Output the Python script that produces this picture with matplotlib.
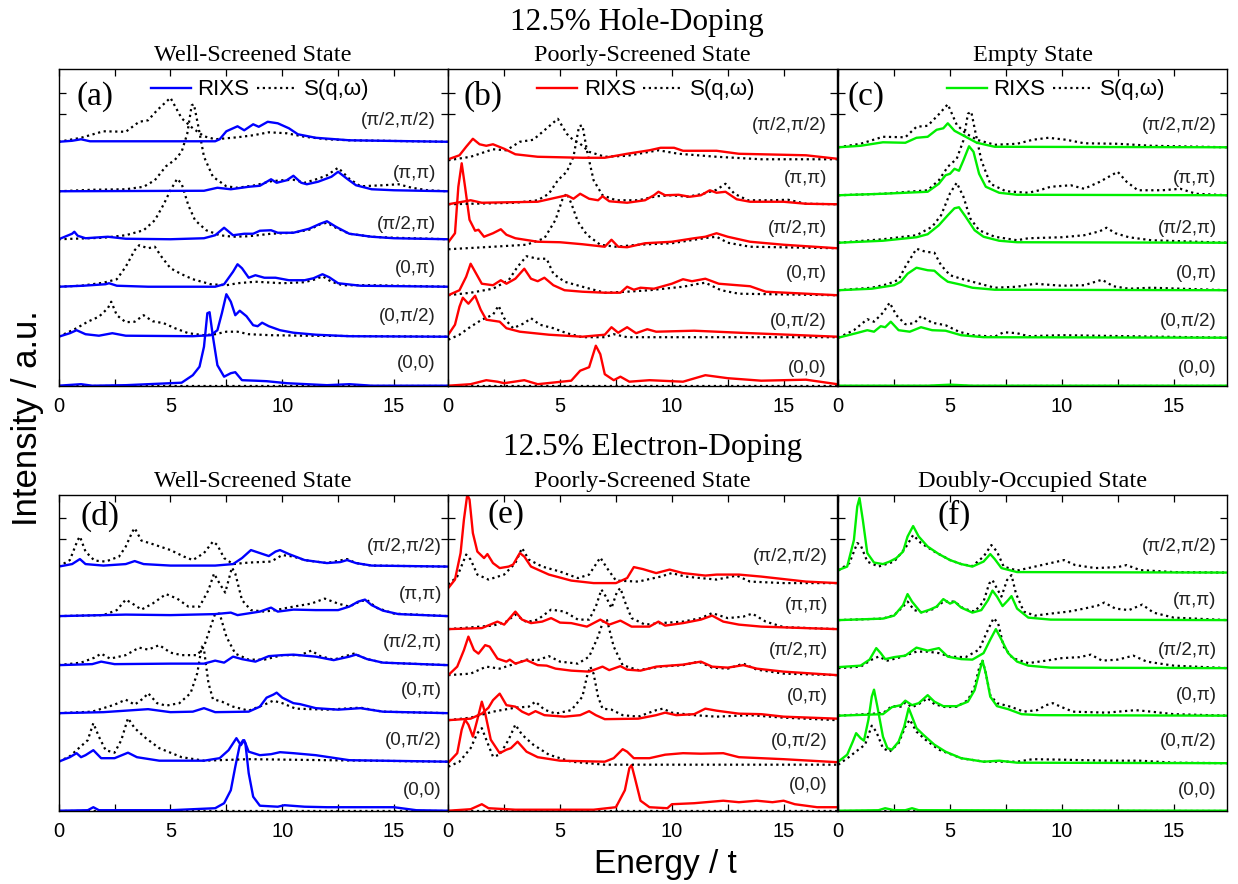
import numpy as np
import matplotlib.pyplot as plt
from matplotlib.ticker import MultipleLocator, FixedLocator
from matplotlib.lines import Line2D

# momentum labels, bottom -> top of each panel
q_labels = ['(0,0)', '(0,π/2)', '(0,π)', '(π/2,π)', '(π,π)', '(π/2,π/2)']
row_titles = ['12.5% Hole-Doping', '12.5% Electron-Doping']
panel_titles = ['Well-Screened State', 'Poorly-Screened State', 'Empty State',
                'Well-Screened State', 'Poorly-Screened State', 'Doubly-Occupied State']
panel_letters = ['(a)', '(b)', '(c)', '(d)', '(e)', '(f)']
panel_colors = ['#0000ff', '#ff0000', '#00ee00', '#0000ff', '#ff0000', '#00ee00']

# vertical offsets of the stacked spectra (bottom -> top)
offsets_a = [0, 0.98, 1.98, 2.93, 3.89, 4.88]
offsets_b = [0, 0.97, 1.81, 2.75, 3.63, 4.53]
offsets_c = [0, 0.96, 1.91, 2.86, 3.81, 4.77]
offsets_d = [0, 0.98, 1.95, 2.91, 3.89, 4.88]
offsets_e = [0, 0.95, 1.81, 2.71, 3.63, 4.55]
offsets_f = [0, 0.95, 1.90, 2.85, 3.81, 4.76]

flat = [(0, 0), (17.4, 0)]

# ---- (a) hole doping, well-screened ----
a_rixs = [
    [(0,0),(1,0.03),(1.5,0),(3,0.01),(5.5,0.06),(6.0,0.21),(6.3,0.38),(6.5,0.78),(6.65,1.45),(6.75,1.47),(6.9,0.98),(7.1,0.41),(7.4,0.18),(7.7,0.25),(7.9,0.27),(8.2,0.11),(8.8,0.1),(9.3,0.09),(10.2,0.05),(12,0.01),(13,0.03),(14,0),(17.4,0)],
    [(0,0),(0.5,0.07),(0.8,0.13),(1.2,0.05),(1.8,0.02),(2.4,0.07),(3,0.02),(6,0.01),(6.8,0.03),(7.1,0.13),(7.3,0.47),(7.5,0.85),(7.7,0.7),(7.9,0.43),(8.1,0.52),(8.4,0.41),(8.7,0.23),(8.9,0.21),(9.1,0.28),(9.4,0.21),(9.9,0.13),(10.5,0.08),(11.5,0.04),(13,0.01),(17.4,0)],
    [(0,0),(1.1,0.02),(2.1,0.05),(2.25,0.07),(2.6,0.02),(4,0),(7,0),(7.4,0.05),(7.8,0.3),(8.0,0.45),(8.2,0.37),(8.5,0.18),(8.8,0.23),(9.2,0.18),(9.7,0.18),(10.3,0.13),(11.0,0.13),(11.4,0.17),(11.8,0.25),(12.1,0.19),(12.5,0.07),(13.5,0.02),(17.4,0)],
    [(0,0),(0.6,0.11),(0.7,0.15),(0.85,0.07),(1.2,0.02),(2.2,0.05),(3,0.01),(5,0),(6.5,0.02),(7.0,0.08),(7.4,0.23),(7.8,0.08),(8.3,0.11),(8.7,0.11),(9.0,0.17),(9.5,0.18),(9.8,0.13),(10.5,0.13),(11.2,0.21),(11.7,0.31),(12.0,0.36),(12.4,0.25),(13,0.11),(14,0.05),(15,0.02),(17.4,0)],
    [(0,0),(6.5,0.01),(7.1,0.07),(7.7,0.04),(8.5,0.09),(9.0,0.11),(9.5,0.24),(9.75,0.17),(10.2,0.22),(10.5,0.31),(10.85,0.17),(11.1,0.14),(11.6,0.19),(12.2,0.29),(12.5,0.39),(12.9,0.25),(13.3,0.12),(14,0.04),(15,0.02),(17.4,0)],
    [(0,0),(0.6,0.02),(1,0.05),(1.4,0.01),(7.0,0.01),(7.2,0.05),(7.5,0.21),(8.0,0.31),(8.3,0.23),(8.7,0.35),(8.95,0.3),(9.35,0.4),(9.8,0.37),(10.3,0.27),(10.7,0.15),(11.5,0.08),(13,0.03),(17.4,0)],
]
a_sqw = [
    flat,
    [(0,0),(0.8,0.17),(1.3,0.3),(1.8,0.4),(2.2,0.57),(2.35,0.7),(2.6,0.43),(3.0,0.29),(3.4,0.3),(3.8,0.43),(4.2,0.31),(4.7,0.27),(5.2,0.17),(5.8,0.07),(6.5,0.03),(7.0,0.05),(7.5,0.1),(8.0,0.1),(8.5,0.05),(9.5,0.03),(11,0.02),(17.4,0)],
    [(0,0),(1,0.02),(2,0.08),(2.6,0.15),(3.0,0.4),(3.4,0.73),(3.6,0.83),(4.0,0.77),(4.3,0.8),(4.6,0.6),(5.0,0.37),(5.5,0.25),(6.0,0.15),(6.8,0.05),(7.5,0.03),(8.0,0.07),(8.8,0.1),(10,0.07),(11,0.09),(11.5,0.15),(11.8,0.21),(12.2,0.1),(12.7,0.03),(14,0.03),(17.4,0)],
    [(0,0),(2,0.03),(3,0.08),(3.8,0.18),(4.3,0.38),(4.7,0.7),(5.0,0.98),(5.3,1.21),(5.5,1.11),(5.8,0.68),(6.1,0.38),(6.6,0.18),(7.2,0.08),(7.8,0.05),(8.5,0.06),(9.5,0.11),(10.5,0.13),(11.2,0.19),(11.7,0.3),(12.0,0.33),(12.4,0.23),(13,0.11),(14,0.05),(15,0.03),(17.4,0)],
    [(0,0),(1.5,0.03),(3,0.04),(3.8,0.09),(4.3,0.22),(4.8,0.5),(5.2,0.63),(5.5,0.79),(5.75,1.15),(5.95,1.72),(6.05,1.74),(6.25,1.29),(6.5,0.69),(6.9,0.29),(7.5,0.1),(8,0.07),(8.8,0.12),(9.5,0.2),(10,0.22),(10.5,0.23),(11,0.17),(11.6,0.25),(12.0,0.32),(12.5,0.47),(13,0.25),(13.5,0.1),(14.5,0.12),(15.2,0.14),(15.8,0.07),(16.5,0.02),(17.4,0)],
    [(0,0),(1,0.08),(2,0.21),(3,0.2),(3.6,0.4),(4.0,0.43),(4.4,0.63),(5.0,0.88),(5.5,0.47),(6.0,0.27),(6.5,0.11),(7,0.05),(8,0.09),(8.7,0.13),(9.4,0.19),(10.2,0.17),(11,0.1),(12,0.05),(13,0.03),(17.4,0)],
]

# ---- (b) hole doping, poorly-screened ----
b_rixs = [
    [(0,0),(1,0.03),(1.7,0.11),(2.2,0.08),(2.5,0.05),(3.4,0.11),(4,0.03),(5.5,0.1),(5.9,0.3),(6.3,0.37),(6.6,0.8),(6.8,0.63),(7.0,0.23),(7.4,0.11),(7.7,0.18),(8.1,0.08),(9,0.11),(10.5,0.08),(11.5,0.21),(12.5,0.15),(14,0.1),(16,0.12),(17.4,0.03)],
    [(0,0.05),(0.3,0.25),(0.5,0.61),(0.65,0.79),(0.9,0.67),(1.2,0.83),(1.45,0.55),(1.7,0.35),(2.0,0.33),(2.3,0.31),(2.6,0.18),(3.2,0.11),(4.5,0.05),(6,0.01),(7,0.05),(7.3,0.2),(7.6,0.09),(8.0,0.2),(8.4,0.08),(8.9,0.16),(9.3,0.11),(11,0.13),(13,0.09),(17.4,0.01)],
    [(0,0),(0.5,0.1),(0.8,0.37),(1.0,0.63),(1.2,0.47),(1.5,0.23),(2.0,0.2),(2.35,0.3),(2.6,0.23),(3.0,0.33),(3.4,0.53),(3.7,0.33),(4.0,0.28),(4.3,0.35),(4.7,0.2),(5.2,0.1),(6,0.07),(7,0.05),(7.7,0.05),(8.0,0.17),(8.3,0.11),(8.6,0.15),(9.2,0.13),(10,0.23),(10.5,0.32),(10.9,0.28),(11.5,0.33),(12.1,0.23),(13.5,0.18),(14.2,0.07),(17.4,0)],
    [(0,0.12),(0.3,0.3),(0.45,1.23),(0.6,1.7),(0.75,1.23),(0.95,0.57),(1.2,0.35),(1.35,0.37),(1.6,0.23),(2.0,0.3),(2.35,0.38),(2.6,0.27),(3,0.2),(4,0.13),(5,0.12),(6,0.08),(7,0.03),(7.3,0.17),(7.6,0.03),(8,0.02),(8.8,0.1),(10,0.13),(11.0,0.2),(11.5,0.23),(12.0,0.3),(12.5,0.23),(13.5,0.13),(15,0.07),(17.4,0)],
    [(0,0),(1,0.08),(1.5,0.03),(4,0.05),(5.0,0.15),(5.3,0.18),(5.6,0.11),(5.9,0.21),(6.3,0.11),(6.7,0.08),(6.9,0.16),(7.2,0.06),(8,0.03),(8.8,0.08),(9.2,0.18),(9.4,0.25),(9.7,0.18),(10.3,0.19),(10.8,0.15),(11.3,0.18),(11.7,0.28),(12.0,0.23),(12.4,0.25),(12.9,0.1),(13.5,0.05),(15,0.05),(16,0.01),(17.4,0)],
    [(0,0),(0.5,0.08),(0.8,0.25),(1.1,0.41),(1.4,0.3),(1.7,0.27),(2.0,0.3),(2.5,0.21),(3.0,0.1),(4,0.05),(6,0.03),(7,0.03),(8,0.11),(9,0.18),(9.5,0.23),(10.1,0.23),(10.5,0.17),(12,0.17),(13,0.11),(14,0.1),(16,0.08),(17.4,0.01)],
]
b_sqw = [
    flat,
    [(0,-0.05),(0.5,0.05),(1,0.21),(1.5,0.35),(2.0,0.45),(2.25,0.63),(2.5,0.38),(2.9,0.18),(3.4,0.28),(3.7,0.38),(4.1,0.25),(4.7,0.18),(5.3,0.08),(6,0),(7,0),(7.4,0.06),(8,0),(17.4,0)],
    [(0,0),(1,0.05),(2,0.13),(2.7,0.3),(3.1,0.57),(3.5,0.78),(4.0,0.73),(4.4,0.73),(4.7,0.43),(5.2,0.27),(6,0.17),(7,0.05),(8,0.07),(9,0.1),(10.5,0.17),(11.2,0.23),(11.5,0.25),(12.2,0.1),(13,0.03),(17.4,0)],
    [(0,-0.02),(2,0.03),(3.5,0.07),(4.3,0.2),(4.8,0.57),(5.1,0.97),(5.3,1.1),(5.5,0.9),(5.8,0.53),(6.2,0.27),(6.8,0.07),(7.5,0.03),(8.5,0.07),(10,0.1),(11,0.17),(11.6,0.21),(12.0,0.23),(12.5,0.11),(13.5,0.03),(17.4,0)],
    [(0,0),(3,0.03),(4,0.08),(4.5,0.21),(4.9,0.48),(5.3,0.65),(5.6,0.95),(5.85,1.56),(6.0,1.58),(6.2,1.08),(6.5,0.48),(6.9,0.18),(7.5,0.08),(8.5,0.08),(9.3,0.16),(10,0.18),(10.7,0.15),(11.4,0.21),(12.0,0.29),(12.4,0.41),(12.8,0.21),(13.4,0.08),(14.5,0.08),(15.2,0.09),(16,0.01),(17.4,0)],
    [(0,-0.02),(1,0.05),(2,0.2),(2.6,0.18),(3.2,0.35),(3.8,0.39),(4.3,0.58),(4.9,0.81),(5.3,0.51),(5.6,0.38),(5.9,0.31),(6.3,0.15),(7,0.05),(8,0.07),(9.4,0.18),(10.3,0.11),(12,0.05),(14,0),(17.4,0)],
]

# ---- (c) hole doping, empty state ----
c_rixs = [
    [(0,0),(4,0),(5,0.02),(6,0),(17.4,0)],
    [(0,0),(0.8,0.09),(1.3,0.15),(1.6,0.12),(1.9,0.23),(2.1,0.21),(2.35,0.32),(2.7,0.15),(3.2,0.12),(3.7,0.21),(4.2,0.15),(4.8,0.14),(5.5,0.05),(6.5,0.01),(17.4,0)],
    [(0,0),(1.5,0.03),(2.5,0.1),(2.8,0.17),(3.1,0.33),(3.5,0.45),(4.0,0.4),(4.3,0.39),(4.6,0.27),(4.9,0.17),(5.5,0.11),(6,0.05),(7,0.01),(17.4,0)],
    [(0,0),(2,0.04),(3.5,0.11),(4.0,0.17),(4.5,0.35),(4.9,0.55),(5.2,0.69),(5.4,0.71),(5.7,0.52),(6.1,0.25),(6.5,0.12),(7.2,0.04),(8,0.01),(17.4,0)],
    [(0,0),(2,0.03),(4,0.07),(4.5,0.23),(4.8,0.4),(5.0,0.43),(5.2,0.53),(5.4,0.49),(5.6,0.7),(5.85,0.98),(6.05,0.87),(6.3,0.43),(6.6,0.17),(7.2,0.05),(8,0.01),(17.4,0)],
    [(0,0),(1,0.03),(2,0.1),(3,0.09),(3.5,0.19),(4.0,0.21),(4.4,0.35),(4.7,0.38),(4.9,0.48),(5.2,0.33),(5.7,0.21),(6.2,0.09),(7,0.01),(17.4,0)],
]
c_sqw = [
    flat,
    [(0,0),(0.7,0.15),(1.3,0.37),(1.6,0.32),(2.0,0.5),(2.3,0.7),(2.6,0.45),(3.0,0.27),(3.4,0.29),(3.7,0.43),(4.2,0.3),(4.8,0.25),(5.4,0.12),(6,0.05),(7,0.02),(7.4,0.11),(8,0.09),(8.5,0.03),(10,0.05),(17.4,0)],
    [(0,0),(1.5,0.05),(2.2,0.12),(2.7,0.21),(3.0,0.47),(3.5,0.83),(3.9,0.77),(4.3,0.75),(4.6,0.5),(5.0,0.3),(5.5,0.23),(6,0.17),(7,0.05),(8,0.07),(8.8,0.13),(10,0.09),(11,0.1),(11.8,0.21),(12.3,0.08),(13,0.03),(14,0.05),(17.4,0)],
    [(0,0),(2,0.07),(3.5,0.15),(4.2,0.32),(4.6,0.55),(5.0,0.99),(5.3,1.2),(5.6,0.92),(5.9,0.49),(6.3,0.25),(7,0.12),(8,0.05),(8.5,0.09),(10,0.11),(11,0.15),(11.7,0.23),(12.0,0.3),(12.4,0.19),(13,0.11),(14,0.05),(17.4,0)],
    [(0,0),(2,0.03),(4,0.1),(4.5,0.3),(4.9,0.57),(5.3,0.73),(5.6,1.1),(5.8,1.63),(5.95,1.67),(6.15,1.23),(6.4,0.7),(6.8,0.23),(7.5,0.08),(8.5,0.05),(9.0,0.1),(9.5,0.17),(10.4,0.2),(11,0.13),(11.7,0.27),(12.1,0.37),(12.5,0.47),(12.9,0.27),(13.4,0.1),(14.5,0.1),(15.3,0.13),(16,0.03),(17.4,0)],
    [(0,0),(1,0.07),(2,0.21),(3,0.2),(3.5,0.41),(4.0,0.43),(4.5,0.66),(4.9,0.86),(5.3,0.45),(5.7,0.28),(6.2,0.15),(7,0.05),(8,0.07),(8.7,0.15),(9.4,0.19),(10.2,0.15),(11,0.08),(12.5,0.07),(14,0.03),(17.4,0)],
]

# ---- (d) electron doping, well-screened ----
d_rixs = [
    [(0,0),(1.3,0.01),(1.55,0.07),(1.8,0.01),(5,0.01),(7,0.05),(7.4,0.15),(7.7,0.41),(7.9,0.88),(8.1,1.31),(8.25,1.41),(8.35,1.35),(8.5,0.75),(8.7,0.28),(9.0,0.1),(9.8,0.08),(10.1,0.11),(11,0.08),(12,0.07),(15,0.07),(16,0.01),(17.4,0)],
    [(0,0),(0.5,0.09),(0.8,0.17),(1.0,0.09),(1.2,0.13),(1.55,0.23),(1.9,0.07),(2.5,0.07),(3.1,0.18),(3.5,0.09),(4.5,0.02),(6.5,0.02),(7.2,0.07),(7.6,0.23),(7.95,0.47),(8.15,0.33),(8.3,0.43),(8.5,0.2),(9,0.13),(9.5,0.15),(9.9,0.19),(10.5,0.17),(11.5,0.13),(13,0.03),(17.4,0)],
    [(0,0),(2,0.02),(3,0.05),(4.0,0.08),(5,0.02),(6.0,0.03),(6.5,0.1),(7,0.02),(8.5,0.03),(9.0,0.13),(9.3,0.31),(9.6,0.37),(9.75,0.41),(10.0,0.31),(10.5,0.2),(10.8,0.18),(11.5,0.1),(12.5,0.07),(13.5,0.1),(14.5,0.03),(17.4,0)],
    [(0,0),(1.5,0.02),(1.9,0.07),(2.5,0.02),(5,0.03),(6.5,0.03),(7.0,0.09),(7.4,0.05),(7.8,0.17),(8.2,0.12),(8.8,0.07),(9.4,0.18),(10.0,0.2),(10.5,0.21),(11.5,0.17),(12.3,0.1),(13.0,0.17),(13.3,0.21),(13.8,0.12),(14.5,0.05),(17.4,0)],
    [(0,0),(3,0.03),(5,0.02),(7,0.04),(7.7,0.07),(8,0.02),(9,0.09),(9.5,0.17),(9.8,0.09),(10.5,0.13),(11.5,0.12),(12.5,0.12),(13.0,0.19),(13.4,0.29),(13.7,0.33),(14.0,0.22),(14.5,0.11),(15.2,0.04),(17.4,0)],
    [(0,0),(0.6,0.05),(0.95,0.15),(1.2,0.05),(2,0.02),(3,0.05),(3.4,0.11),(3.8,0.05),(5,0.02),(7,0.02),(7.8,0.05),(8.2,0.17),(8.6,0.33),(9.0,0.27),(9.4,0.21),(9.7,0.3),(9.9,0.33),(10.3,0.25),(11,0.13),(12,0.07),(12.6,0.09),(12.9,0.13),(13.3,0.07),(14,0.02),(17.4,0)],
]
d_sqw = [
    flat,
    [(0,0),(0.5,0.11),(0.9,0.27),(1.3,0.43),(1.55,0.77),(1.8,0.5),(2.1,0.23),(2.5,0.18),(2.8,0.43),(3.1,0.87),(3.4,0.67),(3.9,0.47),(4.5,0.27),(5.5,0.09),(6.5,0.02),(8.5,0.05),(17.4,0)],
    [(0,0),(1.5,0.03),(2.5,0.17),(3.0,0.27),(3.4,0.17),(3.8,0.3),(4.0,0.4),(4.4,0.2),(4.8,0.15),(5.4,0.2),(5.9,0.4),(6.2,0.8),(6.4,1.33),(6.5,1.27),(6.7,0.6),(6.9,0.28),(7.3,0.23),(7.8,0.13),(8.5,0.05),(9.2,0.17),(9.6,0.25),(10.0,0.2),(10.6,0.09),(12,0.07),(13.5,0.11),(14.5,0.03),(17.4,0)],
    [(0,0),(1.0,0.05),(1.6,0.15),(1.9,0.23),(2.3,0.13),(3,0.2),(3.6,0.35),(4.0,0.31),(4.5,0.4),(5.0,0.25),(5.5,0.2),(6.2,0.2),(6.5,0.37),(6.8,0.77),(7.0,1.03),(7.2,1.03),(7.5,0.57),(7.9,0.23),(8.5,0.11),(9.2,0.11),(10.0,0.2),(10.8,0.2),(11.3,0.29),(11.7,0.18),(12.3,0.11),(13.2,0.23),(13.8,0.12),(14.5,0.05),(17.4,0)],
    [(0,0),(2,0.02),(2.6,0.12),(3.0,0.33),(3.3,0.25),(3.7,0.13),(4.2,0.25),(4.8,0.44),(5.3,0.35),(5.8,0.19),(6.3,0.19),(6.7,0.52),(6.95,0.85),(7.2,0.65),(7.45,0.47),(7.75,0.97),(7.9,0.85),(8.2,0.32),(8.6,0.12),(9.2,0.09),(9.7,0.12),(10.5,0.19),(11.3,0.25),(11.9,0.35),(12.5,0.25),(13.0,0.19),(13.5,0.3),(13.8,0.32),(14.2,0.17),(15,0.05),(17.4,0)],
    [(0,0),(0.5,0.13),(0.85,0.53),(0.95,0.6),(1.2,0.3),(1.6,0.12),(2.1,0.1),(2.7,0.2),(3.0,0.4),(3.3,0.7),(3.4,0.77),(3.7,0.52),(4.2,0.45),(5.0,0.33),(5.6,0.2),(6.0,0.13),(6.5,0.27),(6.9,0.5),(7.1,0.43),(7.4,0.17),(7.8,0.05),(8.5,0.08),(9.5,0.1),(10.0,0.23),(10.5,0.2),(11,0.13),(12,0.07),(12.9,0.15),(13.3,0.07),(14,0.02),(17.4,0)],
]

# ---- (e) electron doping, poorly-screened ----
e_rixs = [
    [(0,0),(1.0,0.03),(1.5,0.13),(1.8,0.05),(3,0.02),(6.5,0.02),(7.5,0.07),(7.9,0.41),(8.1,0.85),(8.2,0.91),(8.35,0.65),(8.6,0.2),(9.0,0.07),(9.8,0.05),(10.0,0.13),(11,0.15),(12.3,0.2),(13,0.17),(13.8,0.2),(14.5,0.17),(15.0,0.2),(15.5,0.13),(16.5,0.07),(17.4,0.07)],
    [(0,0.01),(0.4,0.2),(0.6,0.67),(0.75,0.87),(0.9,0.77),(1.1,0.53),(1.3,0.87),(1.5,1.23),(1.65,1.0),(1.9,0.47),(2.3,0.2),(2.6,0.27),(2.8,0.3),(3.1,0.43),(3.5,0.23),(4,0.12),(5,0.05),(7,0.03),(7.4,0.1),(7.8,0.28),(8.0,0.23),(8.3,0.1),(9,0.1),(9.7,0.17),(10.5,0.2),(11.3,0.19),(12.3,0.2),(13.0,0.12),(15,0.08),(17.4,0.02)],
    [(0,0),(1.0,0.03),(1.5,0.13),(1.8,0.25),(2.0,0.4),(2.3,0.53),(2.6,0.3),(3.0,0.27),(3.3,0.17),(3.6,0.11),(3.9,0.18),(4.3,0.1),(5.2,0.07),(5.9,0.1),(6.3,0.18),(6.6,0.1),(7.0,0.02),(8.5,0.03),(9.3,0.1),(9.7,0.15),(10.2,0.1),(11,0.12),(11.5,0.23),(12,0.19),(13,0.13),(14,0.12),(15,0.07),(17.4,0.03)],
    [(0,0),(0.4,0.17),(0.7,0.5),(0.9,0.77),(1.15,0.5),(1.35,0.43),(1.65,0.6),(1.85,0.57),(2.2,0.33),(2.6,0.27),(2.75,0.31),(3.0,0.23),(3.5,0.3),(4.0,0.2),(4.4,0.19),(4.8,0.13),(5.5,0.09),(6.3,0.07),(6.9,0.17),(7.2,0.1),(7.7,0.18),(8.0,0.11),(8.6,0.09),(9.3,0.17),(10.5,0.21),(11.3,0.27),(11.8,0.17),(12.5,0.15),(13.2,0.2),(13.8,0.13),(15,0.07),(17.4,0)],
    [(0,0),(1.5,0.02),(2.2,0.15),(2.5,0.09),(3.0,0.35),(3.3,0.19),(3.7,0.12),(4.2,0.15),(4.6,0.22),(5.0,0.13),(5.5,0.12),(6.2,0.05),(6.8,0.19),(7.2,0.09),(7.7,0.17),(8.2,0.05),(9.0,0.05),(9.4,0.15),(9.7,0.07),(10.5,0.12),(11.3,0.19),(11.8,0.27),(12.3,0.15),(13,0.09),(14,0.05),(16,0.02),(17.4,0)],
    [(0,-0.1),(0.3,0.07),(0.55,0.6),(0.7,1.27),(0.85,1.77),(0.95,1.67),(1.1,1.0),(1.3,0.63),(1.6,0.5),(1.75,0.58),(2.0,0.4),(2.3,0.3),(2.7,0.33),(2.9,0.37),(3.2,0.6),(3.4,0.53),(3.7,0.33),(4.5,0.17),(5.5,0.05),(6.5,0),(7.5,0),(8.0,0.1),(8.3,0.32),(8.7,0.28),(9.3,0.2),(9.9,0.27),(10.5,0.2),(11.5,0.15),(12.0,0.17),(13,0.17),(14,0.13),(15,0.08),(16,0.03),(17.4,0)],
]
e_sqw = [
    flat,
    [(0,-0.07),(0.5,0.03),(1.0,0.3),(1.3,0.6),(1.5,0.7),(1.7,0.47),(2.0,0.13),(2.3,0.17),(2.7,0.47),(3.0,0.77),(3.3,0.57),(3.8,0.37),(4.5,0.17),(5.5,0.03),(7,-0.03),(17.4,-0.03)],
    [(0,0),(1,0.05),(2,0.17),(3.0,0.25),(3.6,0.27),(3.9,0.37),(4.3,0.21),(4.8,0.13),(5.5,0.2),(6.0,0.47),(6.2,0.87),(6.35,1.07),(6.5,0.93),(6.7,0.47),(6.9,0.23),(7.3,0.21),(7.8,0.1),(8.5,0.07),(9.3,0.2),(9.6,0.23),(10.0,0.15),(11,0.1),(12,0.07),(13.5,0.1),(15,0.05),(17.4,0)],
    [(0,0),(1.0,0.03),(1.7,0.17),(2.3,0.13),(3.0,0.23),(3.5,0.31),(4.0,0.3),(4.5,0.38),(5.0,0.27),(5.8,0.23),(6.3,0.37),(6.7,0.77),(6.95,1.11),(7.1,1.1),(7.4,0.57),(7.8,0.2),(8.5,0.1),(9.5,0.17),(10.5,0.2),(11.2,0.27),(11.8,0.15),(12.5,0.13),(13.2,0.23),(13.8,0.11),(15,0.03),(17.4,0)],
    [(0,0),(2,0.07),(2.6,0.15),(3.0,0.29),(3.5,0.14),(4.0,0.19),(4.6,0.39),(5.2,0.35),(5.8,0.19),(6.3,0.19),(6.6,0.45),(6.85,0.79),(7.05,0.65),(7.3,0.42),(7.55,0.75),(7.7,0.82),(7.9,0.55),(8.2,0.22),(8.8,0.09),(9.5,0.12),(10.5,0.15),(11.3,0.22),(11.8,0.32),(12.5,0.22),(13.2,0.25),(13.6,0.31),(14.2,0.15),(15,0.04),(17.4,0)],
    [(0,-0.03),(0.4,0.13),(0.8,0.57),(1.0,0.47),(1.3,0.17),(1.8,0.07),(2.5,0.17),(3.0,0.4),(3.3,0.7),(3.6,0.47),(4.2,0.33),(5.0,0.23),(5.8,0.1),(6.3,0.17),(6.8,0.51),(7.1,0.3),(7.5,0.05),(8.5,0.03),(9.5,0.13),(10.0,0.2),(10.6,0.13),(12,0.07),(12.9,0.15),(13.5,0.03),(15,0),(17.4,0)],
]

# ---- (f) electron doping, doubly-occupied ----
f_rixs = [
    [(0,0),(1.8,0.01),(2.1,0.05),(2.5,0.01),(3.0,0.01),(3.3,0.05),(3.6,0.01),(17.4,0)],
    [(0,0.03),(0.4,0.17),(0.65,0.43),(0.8,0.6),(1.0,0.5),(1.15,0.45),(1.35,0.87),(1.5,1.33),(1.6,1.47),(1.75,1.13),(2.0,0.53),(2.2,0.3),(2.4,0.27),(2.7,0.43),(2.95,0.73),(3.15,1.1),(3.3,0.93),(3.5,0.7),(3.8,0.57),(4.3,0.37),(4.8,0.23),(5.5,0.1),(6.5,0.03),(7.2,0.05),(8,0.01),(17.4,0)],
    [(0,0),(2,0.03),(2.4,0.17),(2.8,0.21),(3.0,0.3),(3.3,0.21),(3.6,0.25),(4.0,0.41),(4.3,0.28),(4.7,0.19),(5.3,0.19),(5.8,0.28),(6.1,0.51),(6.3,0.85),(6.45,1.1),(6.6,0.85),(6.8,0.38),(7.1,0.19),(7.6,0.13),(8.2,0.03),(9,0.01),(17.4,0)],
    [(0,0.02),(1,0.05),(1.4,0.17),(1.7,0.4),(1.9,0.3),(2.1,0.18),(2.5,0.22),(3.0,0.25),(3.5,0.41),(4.0,0.35),(4.5,0.4),(4.9,0.23),(5.5,0.18),(6.0,0.17),(6.5,0.3),(6.8,0.57),(7.05,0.78),(7.3,0.57),(7.6,0.3),(8.0,0.13),(8.5,0.05),(9.5,0.01),(17.4,0)],
    [(0,0),(2,0.03),(2.5,0.09),(2.9,0.3),(3.1,0.52),(3.3,0.37),(3.7,0.15),(4.1,0.21),(4.4,0.27),(4.7,0.42),(5.0,0.33),(5.2,0.37),(5.5,0.25),(6.0,0.15),(6.4,0.2),(6.7,0.4),(6.9,0.59),(7.1,0.47),(7.35,0.28),(7.6,0.4),(7.75,0.48),(8.0,0.23),(8.5,0.05),(9.5,0.01),(17.4,0)],
    [(0,0.05),(0.4,0.12),(0.7,0.65),(0.85,1.32),(0.95,1.49),(1.1,1.05),(1.3,0.39),(1.6,0.2),(2.0,0.17),(2.3,0.22),(2.6,0.29),(2.9,0.42),(3.1,0.72),(3.35,0.93),(3.6,0.72),(4.0,0.52),(4.5,0.37),(5.0,0.25),(5.5,0.17),(6.0,0.12),(6.5,0.22),(6.8,0.37),(7.0,0.27),(7.3,0.09),(8,0.01),(17.4,0)],
]
f_sqw = [
    flat,
    [(0,-0.03),(0.5,0.13),(0.9,0.27),(1.2,0.37),(1.5,0.75),(1.7,0.63),(2.0,0.3),(2.3,0.23),(2.7,0.4),(3.0,0.73),(3.2,0.87),(3.5,0.63),(3.9,0.47),(4.5,0.27),(5.5,0.1),(6.5,0.03),(8,0.03),(8.7,0.08),(10,0.07),(12,0.05),(13.5,0.05),(15,0.01),(17.4,0)],
    [(0,0),(2,0.05),(2.4,0.19),(2.8,0.18),(3.0,0.26),(3.3,0.17),(3.6,0.23),(4.0,0.35),(4.3,0.23),(4.8,0.17),(5.3,0.18),(5.8,0.31),(6.1,0.58),(6.3,0.95),(6.45,1.11),(6.6,0.85),(6.8,0.41),(7.1,0.25),(7.7,0.18),(8.3,0.08),(8.9,0.11),(9.3,0.21),(9.6,0.25),(10.0,0.17),(10.5,0.08),(12,0.06),(13.3,0.11),(14,0.08),(15,0.03),(17.4,0)],
    [(0,0),(1,0.03),(1.5,0.17),(1.8,0.23),(2.2,0.15),(2.8,0.22),(3.5,0.33),(4.0,0.33),(4.5,0.3),(5.0,0.23),(5.7,0.22),(6.3,0.37),(6.7,0.77),(6.95,1.0),(7.15,0.9),(7.4,0.43),(7.8,0.2),(8.5,0.1),(9.3,0.15),(10,0.2),(10.8,0.22),(11.3,0.27),(11.8,0.15),(12.5,0.17),(13.2,0.25),(13.8,0.13),(15,0.05),(17.4,0)],
    [(0,0),(2,0.03),(2.5,0.1),(2.9,0.27),(3.1,0.37),(3.4,0.2),(3.8,0.15),(4.3,0.23),(4.7,0.37),(5.2,0.37),(5.6,0.23),(6.1,0.17),(6.5,0.37),(6.75,0.73),(6.9,0.8),(7.1,0.63),(7.3,0.47),(7.55,0.8),(7.75,0.9),(7.95,0.53),(8.3,0.17),(8.8,0.09),(9.5,0.13),(10.3,0.17),(11.0,0.23),(11.6,0.29),(11.9,0.35),(12.4,0.23),(13.0,0.2),(13.6,0.31),(14.1,0.15),(15,0.05),(17.4,0)],
    [(0,0.04),(0.5,0.19),(0.85,0.59),(1.0,0.55),(1.3,0.22),(1.8,0.12),(2.5,0.22),(3.0,0.49),(3.35,0.75),(3.7,0.59),(4.3,0.42),(5.0,0.25),(5.5,0.17),(6.0,0.13),(6.5,0.32),(6.85,0.55),(7.1,0.42),(7.4,0.12),(8,0.04),(8.8,0.12),(9.5,0.19),(10.1,0.25),(10.6,0.15),(11.5,0.09),(12.5,0.11),(12.9,0.15),(13.5,0.05),(15,0.01),(17.4,0)],
]

rixs_all = [a_rixs, b_rixs, c_rixs, d_rixs, e_rixs, f_rixs]
sqw_all = [a_sqw, b_sqw, c_sqw, d_sqw, e_sqw, f_sqw]
offsets_all = [offsets_a, offsets_b, offsets_c, offsets_d, offsets_e, offsets_f]

# layout (figure fractions / axes fractions)
lefts = [0.0474, 0.3621, 0.6771]
bottoms = [0.5637, 0.0829]
width = 0.3142
heights = [0.3579, 0.3571]
ylims = [6.33, 6.31]
qlabel_y = [[0.45, 1.38, 2.35, 3.23, 4.25, 5.30],
            [0.35, 1.28, 2.25, 3.15, 4.15, 5.21],
            [0.35, 1.28, 2.25, 3.15, 4.15, 5.21],
            [0.40, 1.40, 2.41, 3.36, 4.33, 5.28],
            [0.51, 1.38, 2.28, 3.21, 4.11, 5.08],
            [0.41, 1.38, 2.31, 3.21, 4.21, 5.28]]
qlabel_x = [0.97, 0.973, 0.973, 0.985, 0.976, 0.973]
letter_pos = [(0.045, 0.913), (0.038, 0.913), (0.025, 0.913),
              (0.057, 0.931), (0.102, 0.937), (0.254, 0.937)]
legend_x = [0.237, 0.228, 0.279]

serif = 'Liberation Serif'
sans = 'Liberation Sans'
plt.rcParams['font.family'] = [sans, 'DejaVu Sans']
plt.rcParams['mathtext.fontset'] = 'custom'

fig = plt.figure(figsize=(12.38, 8.84), dpi=100)

for k in range(6):
    row, col = divmod(k, 3)
    ax = fig.add_axes([lefts[col], bottoms[row], width, heights[row]])
    color = panel_colors[k]
    for j in range(6):
        off = offsets_all[k][j]
        xs, ys = zip(*sqw_all[k][j])
        ax.plot(xs, np.array(ys) + off, color='black', lw=1.6, ls=(0, (1, 1.6)))
        xr, yr = zip(*rixs_all[k][j])
        ax.plot(xr, np.array(yr) + off, color=color, lw=1.7, solid_joinstyle='round')
        ax.text(qlabel_x[k], qlabel_y[k][j] / ylims[row], q_labels[j], transform=ax.transAxes,
                ha='right', va='center', fontsize=13.5, color='#222222')
    ax.set_xlim(0, 17.4)
    ax.set_ylim(0, ylims[row])
    ax.xaxis.set_major_locator(MultipleLocator(5))
    ax.xaxis.set_minor_locator(MultipleLocator(2.5))
    ax.yaxis.set_major_locator(FixedLocator([5.43, 5.85]))
    ax.tick_params(axis='both', which='both', direction='in', top=True, right=True,
                   length=5, width=0.9, labelsize=14.5, pad=8)
    ax.tick_params(axis='y', labelleft=False)
    for sp in ax.spines.values():
        sp.set_linewidth(1.0)
    ax.set_title(panel_titles[k], family=serif, fontsize=17.5, pad=6)
    ax.text(letter_pos[k][0], letter_pos[k][1], panel_letters[k], transform=ax.transAxes,
            family=serif, fontsize=24, ha='left', va='center')
    if row == 0:
        handles = [Line2D([], [], color=color, lw=1.7),
                   Line2D([], [], color='black', lw=1.6, ls=(0, (1, 1.6)))]
        ax.legend(handles, ['RIXS', 'S(q,ω)'], loc='center left',
                  bbox_to_anchor=(legend_x[col], 0.935), ncol=2, frameon=False,
                  borderpad=0, borderaxespad=0, handlelength=1.8, handletextpad=0.3,
                  columnspacing=0.35, fontsize=16)

fig.text(636.5 / 1238, 1 - 30 / 884, row_titles[0], family=serif, fontsize=22.5,
         ha='center', va='baseline')
fig.text(653 / 1238, 1 - 455 / 884, row_titles[1], family=serif, fontsize=22.5,
         ha='center', va='baseline')
fig.text(28 / 1238, 1 - 418.5 / 884, 'Intensity / a.u.', rotation=90, fontsize=25,
         ha='center', va='center')
fig.text(665 / 1238, 1 - 873 / 884, 'Energy / t', fontsize=24, ha='center', va='baseline')

fig.savefig('out.png', dpi=100)
